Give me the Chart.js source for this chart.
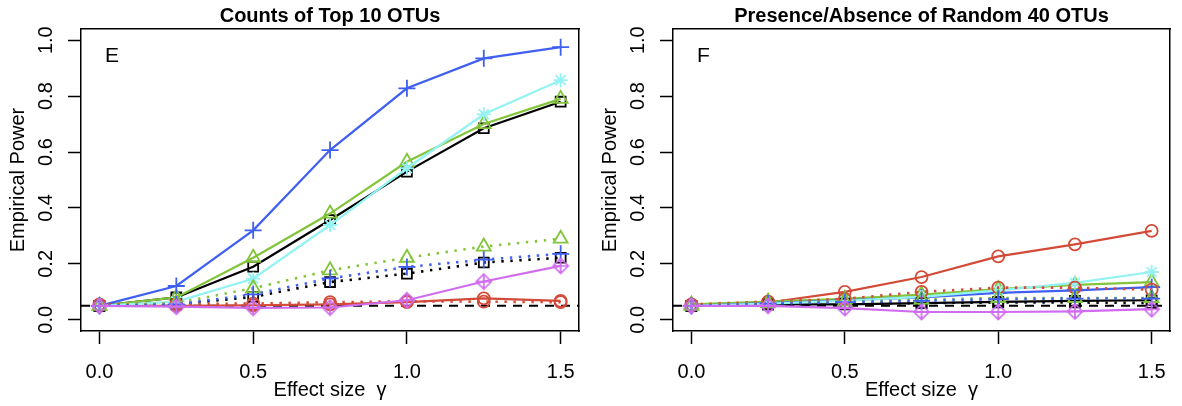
<!DOCTYPE html>
<html>
<head>
<meta charset="utf-8">
<script src="https://cdn.jsdelivr.net/npm/chart.js@4"></script>
<style>
  html, body { margin: 0; padding: 0; background: #fff; overflow: hidden; }
  #wrap { position: relative; width: 1182px; height: 406px; }
  canvas { position: absolute; top: 0; }
  #powerE { left: 0; }
  #powerF { left: 592px; }
</style>
</head>
<body>
<div id="wrap">
  <canvas id="powerE" width="591" height="406"></canvas>
  <canvas id="powerF" width="590" height="406"></canvas>
</div>
<script>
const effectSizes = [0, 0.25, 0.5, 0.75, 1.0, 1.25, 1.5];
const xTicks = [0, 0.5, 1.0, 1.5];
const yTicks = [0, 0.2, 0.4, 0.6, 0.8, 1.0];
const alphaLevel = 0.05;

// counts of top 10 OTUs
const countsBlack  = [0.05, 0.08, 0.19, 0.357, 0.53, 0.685, 0.78];
const countsRed    = [0.05, 0.05, 0.052, 0.055, 0.063, 0.077, 0.068];
const countsGreen  = [0.05, 0.08, 0.222, 0.38, 0.565, 0.70, 0.79];
const countsBlue   = [0.05, 0.121, 0.32, 0.607, 0.828, 0.935, 0.975];
const countsCyan   = [0.05, 0.065, 0.147, 0.339, 0.542, 0.735, 0.857];
const countsPurple = [0.05, 0.047, 0.043, 0.044, 0.07, 0.137, 0.193];
const countsBlackDot = [0.05, 0.055, 0.082, 0.135, 0.165, 0.205, 0.222];
const countsRedDot   = [0.055, 0.057, 0.058, 0.063, 0.066, 0.065, 0.063];
const countsGreenDot = [0.05, 0.06, 0.113, 0.177, 0.222, 0.262, 0.29];
const countsBlueDot  = [0.05, 0.055, 0.091, 0.148, 0.189, 0.215, 0.236];

// presence/absence of random 40 OTUs
const presenceBlack  = [0.05, 0.055, 0.055, 0.06, 0.064, 0.068, 0.07];
const presenceRed    = [0.05, 0.062, 0.10, 0.153, 0.227, 0.27, 0.318];
const presenceGreen  = [0.055, 0.065, 0.075, 0.09, 0.11, 0.125, 0.135];
const presenceBlue   = [0.05, 0.06, 0.07, 0.08, 0.096, 0.105, 0.117];
const presenceCyan   = [0.05, 0.058, 0.068, 0.082, 0.105, 0.132, 0.171];
const presencePurple = [0.05, 0.05, 0.042, 0.028, 0.028, 0.03, 0.038];
const presenceBlackDot = [0.05, 0.055, 0.058, 0.06, 0.062, 0.062, 0.06];
const presenceRedDot   = [0.055, 0.065, 0.075, 0.10, 0.115, 0.115, 0.108];
const presenceGreenDot = [0.05, 0.06, 0.065, 0.072, 0.078, 0.078, 0.078];
const presenceBlueDot  = [0.05, 0.058, 0.063, 0.068, 0.074, 0.076, 0.076];

const FONT = '"Liberation Sans", Arial, Helvetica, sans-serif';
const colors = {
    black: '#000000',
    red: '#d34a38',
    green: '#82c43a',
    blue: '#3f5ff0',
    cyan: '#94f2f2',
    purple: '#d06cf0'
};

// open diamond with a plus inside
function diamondPlus(color) {
    const c = document.createElement('canvas');
    c.width = c.height = 18;
    const g = c.getContext('2d');
    g.strokeStyle = color;
    g.lineWidth = 1.7;
    g.beginPath();
    g.moveTo(9, 1.5); g.lineTo(16.5, 9); g.lineTo(9, 16.5); g.lineTo(1.5, 9); g.closePath();
    g.moveTo(9, 1.5); g.lineTo(9, 16.5);
    g.moveTo(1.5, 9); g.lineTo(16.5, 9);
    g.stroke();
    return c;
}

const markers = {
    black: { style: 'rect', radius: 7 },
    red: { style: 'circle', radius: 6 },
    green: { style: 'triangle', radius: 8 },
    blue: { style: 'cross', radius: 8.5 },
    cyan: { style: 'star', radius: 7 },
    purple: { style: diamondPlus(colors.purple), radius: 7 }
};

function makeDataset(colorName, values, dotted) {
    const m = markers[colorName];
    return {
        label: colorName + (dotted ? ' (dotted)' : ''),
        data: effectSizes.map((x, i) => ({ x, y: values[i] })),
        borderColor: colors[colorName],
        backgroundColor: colors[colorName],
        borderWidth: dotted ? 2.6 : 2.2,
        borderDash: dotted ? [2.4, 6.6] : [],
        pointStyle: m.style,
        pointRadius: m.radius,
        pointBorderWidth: 1.8,
        pointBorderColor: colors[colorName],
        pointBackgroundColor: 'rgba(0,0,0,0)',
        tension: 0
    };
}

// dashed nominal level and the panel letter
const panelDecor = {
    id: 'panelDecor',
    beforeDatasetsDraw(chart) {
        const { ctx, chartArea, scales } = chart;
        const py = scales.y.getPixelForValue(alphaLevel);
        ctx.save();
        ctx.strokeStyle = '#000';
        ctx.lineWidth = 2;
        ctx.setLineDash([9, 7]);
        ctx.beginPath();
        ctx.moveTo(chartArea.left, py);
        ctx.lineTo(chartArea.right, py);
        ctx.stroke();
        ctx.restore();
    },
    afterDraw(chart, args, opts) {
        const { ctx, chartArea } = chart;
        ctx.save();
        ctx.fillStyle = '#000';
        ctx.font = '21px ' + FONT;
        ctx.textBaseline = 'middle';
        ctx.textAlign = 'left';
        ctx.fillText(opts.letter, chartArea.left + 24, chartArea.top + 27);
        ctx.restore();
    }
};

function buildScales(title, rightWidth) {
    const axisFont = { family: FONT, size: 20 };
    const border = { display: true, color: '#000', width: 1.5 };
    const ticksMarks = { drawOnChartArea: false, drawTicks: true, tickLength: 13, tickWidth: 1.5, tickColor: '#000' };
    return {
        x: {
            type: 'linear', position: 'bottom', min: -0.06, max: 1.56,
            afterBuildTicks: s => { s.ticks = xTicks.map(v => ({ value: v })); },
            afterFit: s => { s.height = 75; },
            ticks: { font: axisFont, color: '#000', padding: 16, maxRotation: 0, callback: v => v.toFixed(1) },
            grid: ticksMarks,
            border,
            title: { display: true, text: 'Effect size  γ', font: axisFont, color: '#000', padding: { top: 0, bottom: 4 } }
        },
        y: {
            type: 'linear', position: 'left', min: -0.04, max: 1.04,
            afterBuildTicks: s => { s.ticks = yTicks.map(v => ({ value: v })); },
            afterFit: s => { s.width = 81; },
            ticks: { font: axisFont, color: '#000', padding: 8, minRotation: 90, maxRotation: 90, crossAlign: 'center', callback: v => v.toFixed(1) },
            grid: ticksMarks,
            border,
            title: { display: true, text: 'Empirical Power', font: axisFont, color: '#000', padding: { top: 6, bottom: 0 } }
        },
        xTop: {
            type: 'linear', position: 'top', min: -0.06, max: 1.56,
            afterFit: s => { s.height = 29; },
            ticks: { display: false },
            grid: { display: false },
            border,
            title: { display: true, text: title, font: { family: FONT, size: 20, weight: 'bold' }, color: '#000', padding: { top: 4, bottom: 0 } }
        },
        yRight: {
            type: 'linear', position: 'right', min: -0.04, max: 1.04,
            afterFit: s => { s.width = rightWidth; },
            ticks: { display: false },
            grid: { display: false },
            border
        }
    };
}

function drawPanel(canvasId, title, letter, rightWidth, series) {
    const datasets = series.map(([c, v, dotted]) => makeDataset(c, v, dotted));
    // later entries are drawn on top
    datasets.forEach((d, i) => { d.order = datasets.length - i; });
    new Chart(document.getElementById(canvasId), {
        type: 'line',
        data: { datasets },
        options: {
            responsive: false,
            animation: false,
            layout: { padding: 0 },
            plugins: {
                legend: { display: false },
                tooltip: { enabled: false },
                panelDecor: { letter }
            },
            scales: buildScales(title, rightWidth)
        },
        plugins: [panelDecor]
    });
}

drawPanel('powerE', 'Counts of Top 10 OTUs', 'E', 7, [
    ['black', countsBlack, false],
    ['red', countsRed, false],
    ['green', countsGreen, false],
    ['blue', countsBlue, false],
    ['cyan', countsCyan, false],
    ['black', countsBlackDot, true],
    ['red', countsRedDot, true],
    ['green', countsGreenDot, true],
    ['blue', countsBlueDot, true],
    ['purple', countsPurple, false]
]);

drawPanel('powerF', 'Presence/Absence of Random 40 OTUs', 'F', 5, [
    ['black', presenceBlack, false],
    ['red', presenceRed, false],
    ['green', presenceGreen, false],
    ['blue', presenceBlue, false],
    ['cyan', presenceCyan, false],
    ['black', presenceBlackDot, true],
    ['red', presenceRedDot, true],
    ['green', presenceGreenDot, true],
    ['blue', presenceBlueDot, true],
    ['purple', presencePurple, false]
]);
</script>
</body>
</html>
